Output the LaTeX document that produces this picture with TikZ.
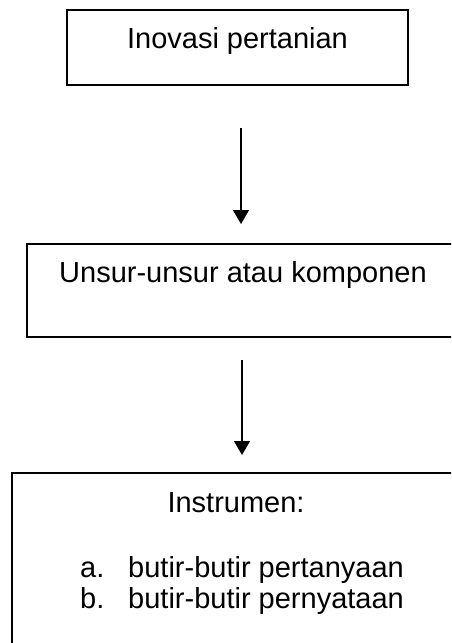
\documentclass[tikz,border=0pt]{standalone}
\usepackage{fontspec}
\setmainfont{Liberation Sans}
\usetikzlibrary{arrows.meta, positioning, calc}

\begin{document}
\begin{tikzpicture}[x=1pt, y=1pt, >={Triangle[width=16pt, length=14pt]},
        box/.style={draw, line width=2pt, inner sep=0pt, outer sep=0pt, font=\fontsize{29}{34}\selectfont},
        item/.style={anchor=base west, inner sep=0pt, font=\fontsize{29}{34}\selectfont},
        flow/.style={->, line width=1.5pt}]

                        \clip (0,0) rectangle (451,-643);

                        % Boxes of the flow, top to bottom
                        \node (inovasi) [box, anchor=north, minimum width=341pt, text height=38pt, text depth=37pt] at (237.5,-10) {Inovasi pertanian};
                        \node (unsur) [box, anchor=north, minimum width=432pt, text height=38pt, text depth=55pt] at (243,-244) {Unsur-unsur atau komponen};
                        \node (instrumen) [box, anchor=north, minimum width=448pt, text height=39pt, text depth=160pt] at (236,-473) {Instrumen:};

                        % List inside the last box
                        \node (itema) [item] at (80,-577) {\makebox[48pt][l]{a.}butir-butir pertanyaan};
                        \node (itemb) [item] at (80,-608) {\makebox[48pt][l]{b.}butir-butir pernyataan};

                        % Arrows between the boxes
                        \draw[flow, shorten <=43pt, shorten >=20pt] ([xshift=3.5pt]inovasi.south) -- ([xshift=-2pt]unsur.north);
                        \draw[flow, shorten <=23pt, shorten >=18pt] ([xshift=-1pt]unsur.south) -- ([xshift=6pt]instrumen.north);
\end{tikzpicture}
\end{document}
